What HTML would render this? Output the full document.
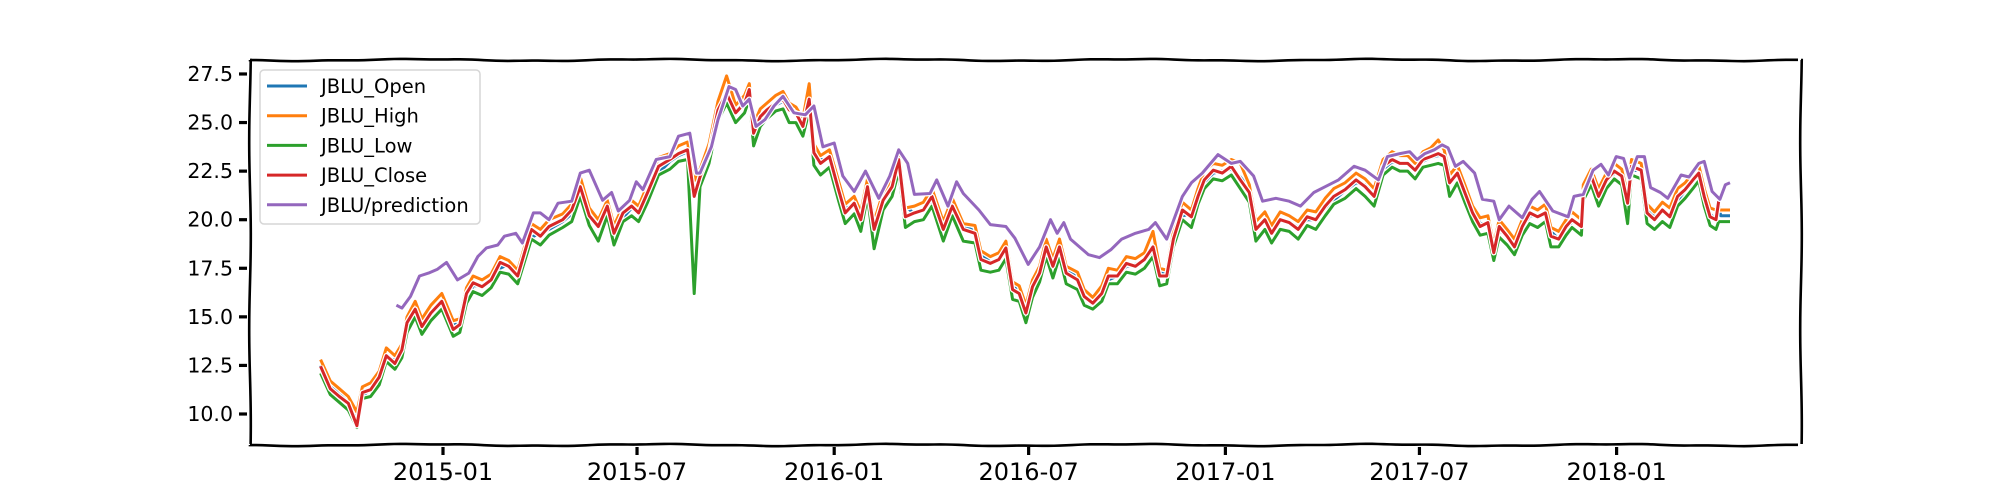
<!DOCTYPE html>
<html><head><meta charset="utf-8"><style>
html,body{margin:0;padding:0;background:#fff;}
svg{display:block;font-family:"DejaVu Sans","Liberation Sans",sans-serif;}
</style></head><body>
<svg id="chart" width="2000" height="500" viewBox="0 0 2000 500">
<g id="marks"></g>
<g id="axes"></g>
<g id="legend"></g>
</svg>
<script>
// ---- data ----
const seriesNames = ["JBLU_Open","JBLU_High","JBLU_Low","JBLU_Close","JBLU/prediction"];
const yTicks = [10.0,12.5,15.0,17.5,20.0,22.5,25.0,27.5];
const xTickLabels = ["2015-01","2015-07","2016-01","2016-07","2017-01","2017-07","2018-01"];
const xTickTimes = [2015.0,2015.496,2016.0,2016.497,2017.0,2017.496,2018.0];
const priceTimes = [2014.687,2014.712,2014.735,2014.758,2014.780,2014.794,2014.815,2014.837,2014.855,2014.877,2014.895,2014.908,2014.929,2014.946,2014.969,2014.997,2015.026,2015.043,2015.060,2015.077,2015.100,2015.123,2015.146,2015.168,2015.191,2015.226,2015.249,2015.271,2015.306,2015.329,2015.351,2015.374,2015.397,2015.420,2015.437,2015.460,2015.482,2015.500,2015.523,2015.551,2015.580,2015.602,2015.625,2015.642,2015.657,2015.680,2015.703,2015.725,2015.748,2015.771,2015.783,2015.794,2015.811,2015.828,2015.851,2015.869,2015.885,2015.902,2015.920,2015.936,2015.948,2015.965,2015.988,2016.011,2016.028,2016.051,2016.068,2016.085,2016.102,2016.125,2016.148,2016.165,2016.182,2016.205,2016.228,2016.250,2016.279,2016.302,2016.330,2016.360,2016.375,2016.399,2016.421,2016.439,2016.456,2016.473,2016.490,2016.507,2016.525,2016.542,2016.559,2016.576,2016.593,2016.622,2016.639,2016.661,2016.684,2016.701,2016.724,2016.747,2016.770,2016.793,2016.815,2016.832,2016.850,2016.867,2016.890,2016.913,2016.930,2016.946,2016.969,2016.992,2017.015,2017.038,2017.061,2017.078,2017.101,2017.118,2017.140,2017.163,2017.186,2017.209,2017.231,2017.255,2017.277,2017.306,2017.334,2017.357,2017.380,2017.403,2017.426,2017.446,2017.466,2017.485,2017.505,2017.525,2017.544,2017.559,2017.573,2017.593,2017.612,2017.632,2017.651,2017.671,2017.686,2017.700,2017.720,2017.739,2017.759,2017.778,2017.798,2017.818,2017.832,2017.852,2017.871,2017.886,2017.910,2017.915,2017.935,2017.954,2017.974,2017.994,2018.013,2018.028,2018.038,2018.063,2018.078,2018.097,2018.117,2018.136,2018.156,2018.175,2018.195,2018.210,2018.224,2018.239,2018.254,2018.261,2018.266,2018.290];
const closeValues = [12.45,11.3,10.9,10.55,9.4,11.1,11.25,11.9,13.0,12.6,13.3,14.7,15.4,14.5,15.2,15.8,14.35,14.6,16.2,16.75,16.55,16.9,17.8,17.6,17.1,19.5,19.15,19.65,20.0,20.5,21.7,20.2,19.65,20.7,19.3,20.35,20.7,20.35,21.4,22.75,23.1,23.4,23.6,21.2,22.2,23.4,25.65,26.5,25.5,26.0,26.7,24.45,25.3,25.65,26.0,26.2,25.65,25.5,24.8,26.2,23.45,22.9,23.25,21.55,20.35,20.85,20.0,21.7,19.5,21.0,21.7,23.1,20.15,20.35,20.5,21.2,19.5,20.7,19.5,19.3,17.95,17.75,17.95,18.55,16.4,16.2,15.2,16.55,17.25,18.6,17.6,18.6,17.25,16.9,16.05,15.7,16.2,17.1,17.1,17.75,17.6,17.95,18.6,17.1,17.1,19.0,20.5,20.15,21.2,22.05,22.55,22.4,22.75,22.05,21.4,19.5,20.0,19.3,20.0,19.85,19.5,20.15,20.0,20.7,21.2,21.55,22.05,21.7,21.2,22.75,23.1,22.9,22.9,22.55,23.1,23.25,23.4,23.25,21.9,22.4,21.4,20.35,19.65,19.85,18.3,19.65,19.15,18.6,19.65,20.35,20.15,20.35,19.15,19.0,19.65,20.0,19.65,21.4,22.25,21.2,22.05,22.5,22.25,20.85,22.75,22.55,20.35,20.0,20.5,20.15,21.2,21.55,22.05,22.4,21.2,20.15,20.0,20.95,null,null];
const openValues = [12.5,11.5,11.0,10.7,9.9,10.9,11.3,11.8,12.8,12.8,13.1,14.4,15.3,14.8,15.0,15.6,14.7,14.5,15.8,16.6,16.6,16.8,17.5,17.7,17.3,19.1,19.3,19.5,19.9,20.3,21.4,20.5,19.8,20.5,19.6,20.1,20.6,20.5,21.1,22.4,23.0,23.3,23.5,22.0,21.9,23.0,25.2,26.3,25.8,25.9,26.5,24.9,25.0,25.6,25.9,26.1,25.8,25.6,25.0,25.9,24.0,23.1,23.1,21.9,20.6,20.7,20.2,21.4,19.9,20.7,21.5,22.8,20.7,20.3,20.5,21.0,19.9,20.5,19.7,19.4,18.3,17.8,17.9,18.4,16.8,16.3,15.5,16.3,17.1,18.3,17.8,18.4,17.5,17.0,16.2,15.8,16.1,16.9,17.1,17.6,17.7,17.9,18.4,17.4,17.1,18.7,20.2,20.3,21.0,21.9,22.4,22.5,22.6,22.2,21.6,19.9,19.9,19.5,19.9,19.9,19.6,20.0,20.0,20.6,21.0,21.5,21.9,21.8,21.3,22.5,23.0,22.9,22.9,22.6,23.0,23.2,23.3,23.3,22.2,22.3,21.6,20.6,19.8,19.8,18.7,19.4,19.3,18.7,19.5,20.2,20.2,20.3,19.4,19.0,19.5,19.9,19.7,21.0,22.1,21.4,21.9,22.4,22.3,21.1,22.5,22.6,20.7,20.1,20.4,20.2,21.0,21.5,21.9,22.3,21.4,20.3,20.0,20.8,20.2,20.2];
const highValues = [12.8,11.7,11.3,10.9,10.1,11.4,11.6,12.2,13.4,13.0,13.6,15.0,15.8,14.9,15.6,16.2,14.8,14.9,16.5,17.1,16.9,17.2,18.1,17.9,17.4,19.8,19.5,20.0,20.3,20.8,22.2,20.6,20.0,21.0,19.7,20.7,21.0,20.7,21.8,23.2,23.4,23.8,24.0,22.0,22.6,23.9,26.1,27.4,25.9,26.4,27.0,24.9,25.7,26.0,26.4,26.6,26.0,25.8,25.2,27.0,23.9,23.3,23.6,22.0,20.8,21.2,20.4,22.1,19.9,21.4,22.1,23.6,20.6,20.7,20.9,21.6,19.9,21.1,19.8,19.7,18.4,18.1,18.3,18.9,16.8,16.6,15.6,16.9,17.6,19.0,18.0,19.0,17.6,17.3,16.4,16.0,16.6,17.5,17.4,18.1,18.0,18.3,19.4,17.5,17.4,19.4,20.9,20.5,21.6,22.5,22.9,22.8,23.1,22.9,21.8,19.9,20.4,19.7,20.4,20.2,19.9,20.5,20.4,21.1,21.6,21.9,22.4,22.1,21.6,23.1,23.5,23.3,23.3,22.9,23.5,23.7,24.1,23.6,22.3,22.8,21.8,20.7,20.1,20.2,18.7,20.0,19.5,19.0,20.0,20.7,20.5,20.8,19.6,19.4,20.0,20.4,20.0,21.8,22.6,21.6,22.4,22.9,22.6,21.3,23.1,22.9,20.8,20.4,20.9,20.6,21.6,21.9,22.4,22.8,21.6,20.6,20.5,20.5,20.5,20.5];
const lowValues = [12.1,11.0,10.6,10.2,9.3,10.8,10.9,11.5,12.7,12.3,12.9,14.2,15.0,14.1,14.8,15.4,14.0,14.2,15.7,16.3,16.1,16.5,17.3,17.2,16.7,19.0,18.7,19.2,19.6,19.9,21.2,19.7,18.9,20.2,18.7,19.9,20.2,19.9,20.9,22.3,22.6,23.0,23.1,16.2,21.7,22.9,25.1,26.0,25.0,25.5,26.2,23.8,24.8,25.2,25.6,25.7,25.0,25.0,24.3,25.6,22.8,22.3,22.7,21.0,19.8,20.3,19.4,21.2,18.5,20.5,21.2,22.5,19.6,19.9,20.0,20.7,18.9,20.2,18.9,18.8,17.4,17.3,17.4,18.0,15.9,15.8,14.7,16.0,16.8,18.1,17.0,18.1,16.7,16.4,15.6,15.4,15.8,16.7,16.7,17.3,17.2,17.5,18.1,16.6,16.7,18.6,20.0,19.6,20.8,21.6,22.1,22.0,22.3,21.6,20.9,18.9,19.5,18.8,19.5,19.4,19.0,19.7,19.5,20.2,20.8,21.1,21.6,21.2,20.7,22.3,22.7,22.5,22.5,22.1,22.7,22.8,22.9,22.8,21.2,21.9,20.9,19.9,19.2,19.3,17.9,19.1,18.7,18.2,19.2,19.8,19.6,19.9,18.6,18.6,19.2,19.6,19.2,21.0,21.8,20.7,21.6,22.1,21.8,19.8,22.3,22.1,19.8,19.5,19.9,19.6,20.7,21.1,21.6,22.0,20.7,19.7,19.5,19.9,19.9,19.9];
const predTimes = [2014.881,2014.895,2014.917,2014.940,2014.963,2014.986,2015.009,2015.037,2015.066,2015.089,2015.111,2015.140,2015.157,2015.186,2015.203,2015.231,2015.249,2015.271,2015.294,2015.329,2015.351,2015.374,2015.408,2015.431,2015.448,2015.477,2015.494,2015.511,2015.545,2015.580,2015.602,2015.631,2015.648,2015.657,2015.686,2015.703,2015.731,2015.748,2015.766,2015.783,2015.800,2015.823,2015.846,2015.869,2015.897,2015.926,2015.948,2015.971,2016.000,2016.022,2016.051,2016.080,2016.114,2016.142,2016.165,2016.188,2016.205,2016.245,2016.262,2016.291,2016.313,2016.330,2016.370,2016.399,2016.439,2016.462,2016.496,2016.525,2016.553,2016.570,2016.587,2016.604,2016.650,2016.678,2016.707,2016.735,2016.770,2016.804,2016.821,2016.850,2016.890,2016.913,2016.941,2016.981,2017.015,2017.038,2017.072,2017.095,2017.129,2017.163,2017.192,2017.226,2017.255,2017.289,2017.329,2017.357,2017.391,2017.414,2017.446,2017.471,2017.490,2017.510,2017.534,2017.554,2017.569,2017.588,2017.608,2017.637,2017.657,2017.686,2017.700,2017.725,2017.759,2017.784,2017.803,2017.837,2017.876,2017.891,2017.915,2017.940,2017.960,2017.979,2017.999,2018.018,2018.033,2018.053,2018.071,2018.087,2018.112,2018.131,2018.165,2018.185,2018.210,2018.224,2018.244,2018.264,2018.278,2018.290];
const predValues = [15.6,15.45,16.05,17.1,17.25,17.45,17.8,16.9,17.25,18.1,18.55,18.7,19.15,19.3,18.8,20.35,20.35,20.0,20.85,20.95,22.4,22.55,21.0,21.4,20.45,21.0,21.95,21.55,23.1,23.25,24.3,24.45,22.4,22.4,23.75,25.15,26.85,26.7,25.85,26.2,24.8,25.15,25.85,26.35,25.5,25.4,25.85,23.75,23.95,22.25,21.45,22.5,21.1,22.25,23.6,22.9,21.3,21.35,22.05,20.7,21.95,21.35,20.5,19.75,19.65,19.05,17.7,18.6,20.0,19.3,19.85,19.0,18.2,18.05,18.45,19.0,19.3,19.5,19.85,19.0,21.2,21.9,22.4,23.35,22.9,23.0,22.25,20.95,21.1,20.95,20.7,21.4,21.7,22.05,22.75,22.55,22.05,23.25,23.4,23.5,23.1,23.4,23.6,23.85,23.7,22.75,23.0,22.4,21.05,20.95,20.0,20.7,20.1,21.05,21.45,20.45,20.15,21.2,21.3,22.55,22.85,22.3,23.25,23.15,22.15,23.25,23.25,21.65,21.4,21.1,22.3,22.2,22.9,23.0,21.45,21.05,21.8,21.9];
const colors = ["#1f77b4","#ff7f0e","#2ca02c","#d62728","#9467bd"];

// ---- scales ----
const L=250,R=1801,T=60,B=445;
function xScale(t){return 443+(t-2015)*391.2;}
function yScale(v){return 414-(v-10)*19.43;}
const NS="http://www.w3.org/2000/svg";
function mk(tag,attrs,parent){const e=document.createElementNS(NS,tag);for(const k in attrs)e.setAttribute(k,attrs[k]);parent.appendChild(e);return e;}
function pathFrom(ts,vs){let d="",pen=false;for(let i=0;i<ts.length;i++){if(vs[i]==null){pen=false;continue;}d+=(pen?"L":"M")+xScale(ts[i]).toFixed(1)+" "+yScale(vs[i]).toFixed(1);pen=true;}return d;}

const marks=document.getElementById('marks');
const seriesData=[[priceTimes,openValues],[priceTimes,highValues],[priceTimes,lowValues],[priceTimes,closeValues],[predTimes,predValues]];
const seriesKeys=["open-line","high-line","low-line","close-line","prediction-line"];
seriesData.forEach((sd,i)=>{
  const d=pathFrom(sd[0],sd[1]);
  const halo=mk('path',{d:d,fill:'none',stroke:'#fff','stroke-width':5.5,'stroke-linejoin':'round'},marks);
  
  
  const p=mk('path',{d:d,fill:'none',stroke:colors[i],'stroke-width':3,'stroke-linejoin':'round'},marks);
  
  
});

// ---- axes (xkcd wiggly spines) ----
const axes=document.getElementById('axes');
function wigH(y,x0,x1){let d="M"+x0+" "+y;for(let x=x0;x<=x1;x+=6){d+="L"+x+" "+(y+0.9*Math.sin(x/38)+0.3*Math.sin(x/11)).toFixed(2);}return d;}
function wigV(x,y0,y1){let d="M"+x+" "+y0;for(let y=y0;y<=y1;y+=6){d+="L"+(x+0.8*Math.sin(y/30)).toFixed(2)+" "+y;}return d;}
const spT=mk('path',{d:wigH(T,L,R),fill:'none',stroke:'#000','stroke-width':2.6},axes);

const spB=mk('path',{d:wigH(B,L,R),fill:'none',stroke:'#000','stroke-width':2.6},axes);

const spL=mk('path',{d:wigV(L,T,B),fill:'none',stroke:'#000','stroke-width':2.6},axes);

const spR=mk('path',{d:wigV(R,T,B),fill:'none',stroke:'#000','stroke-width':2.6},axes);


yTicks.forEach(v=>{
  const y=yScale(v);
  const tk=mk('line',{x1:239,x2:247,y1:y,y2:y,stroke:'#000','stroke-width':3.2},axes);
  
  const tx=mk('text',{x:233,y:y+7,'text-anchor':'end','font-size':20.5,fill:'#000'},axes);
  tx.textContent=v.toFixed(1);
  
});
xTickTimes.forEach((t,i)=>{
  const x=xScale(t);
  const tk=mk('line',{x1:x,x2:x,y1:447,y2:455,stroke:'#000','stroke-width':3.2},axes);
  
  const tx=mk('text',{x:x,y:480,'text-anchor':'middle','font-size':24,fill:'#000'},axes);
  tx.textContent=xTickLabels[i];
  
});

// ---- legend ----
const lg=document.getElementById('legend');
const box=mk('rect',{x:260,y:70,width:220,height:154,rx:4,fill:'#fff','fill-opacity':0.85,stroke:'#d6d6d6','stroke-width':1.5},lg);

seriesNames.forEach((n,i)=>{
  const y=86+i*29.7;
  const ln=mk('line',{x1:267,x2:307,y1:y,y2:y,stroke:colors[i],'stroke-width':3},lg);
  
  const tx=mk('text',{x:321,y:y+7,'font-size':19.5,fill:'#000'},lg);
  tx.textContent=n;
  
});
</script>
</body></html>
